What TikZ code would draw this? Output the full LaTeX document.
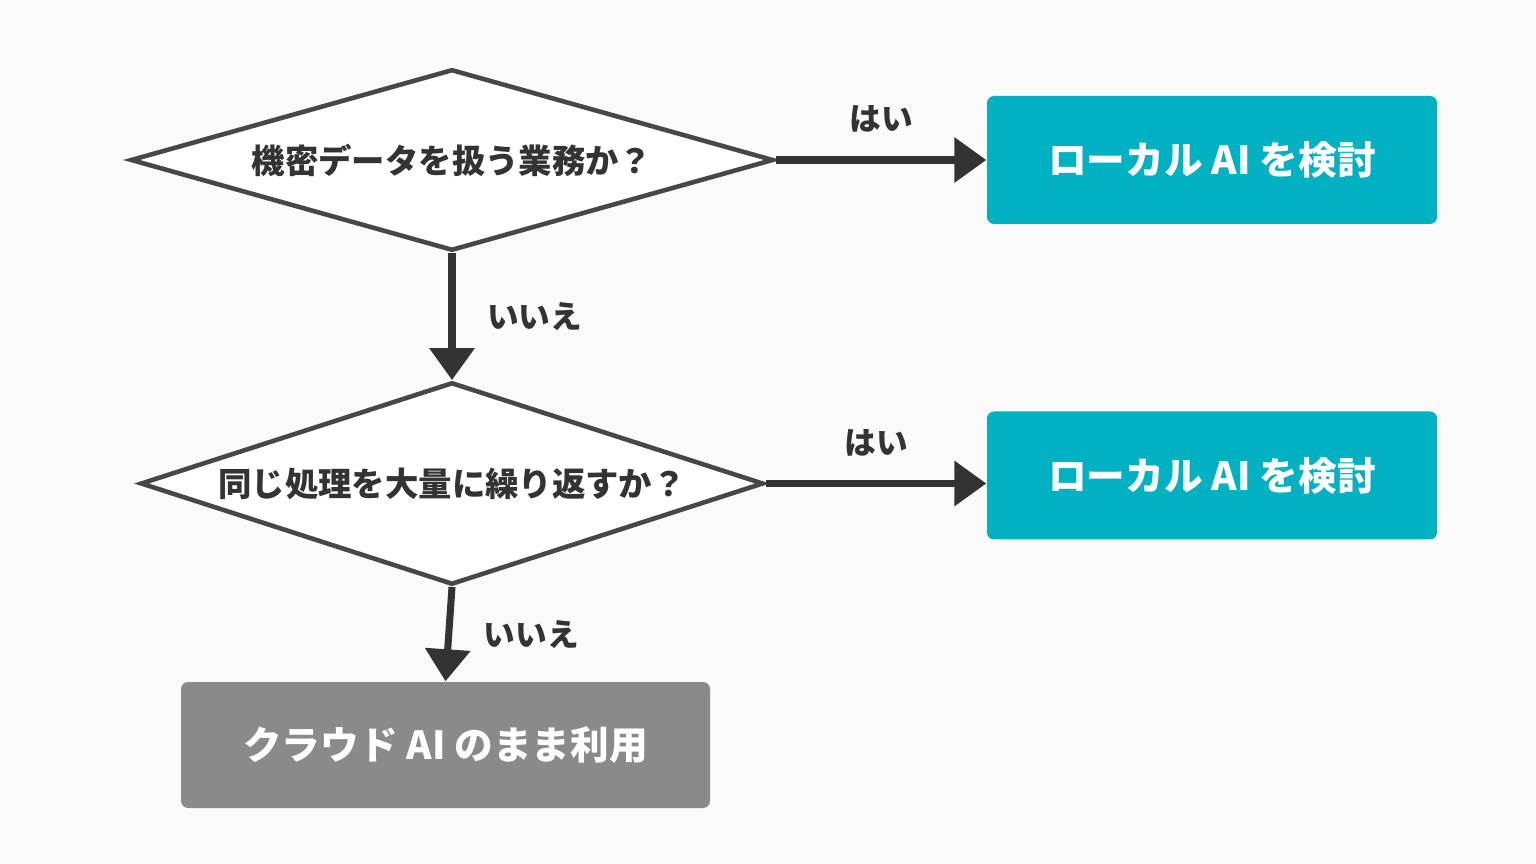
\documentclass[tikz,border=0pt]{standalone}
\usepackage{fontspec}
\setmainfont{Noto Sans CJK JP}
\usetikzlibrary{shapes.geometric,arrows.meta}
\definecolor{teal}{HTML}{00B1C2}
\definecolor{cloud}{HTML}{8A8A8A}
\definecolor{ink}{HTML}{333333}
\begin{document}
\begin{tikzpicture}[
q/.style={draw=ink!90,diamond,line width=1.3pt,fill=white,inner sep=0pt,font=\bfseries\fontsize{9.5}{11}\selectfont,text=ink},
res/.style={rounded corners=2pt,text=white,font=\bfseries\fontsize{11}{13}\selectfont,minimum width=4.5cm,minimum height=1.28cm},
arw/.style={-{Triangle[length=0.32cm,width=0.44cm]},line width=2pt,draw=ink},
lbl/.style={font=\bfseries\fontsize{9}{10}\selectfont,text=ink}
]
\fill[white!98!black](0,0)rectangle(15.36,-8.64);
\useasboundingbox(0,0)rectangle(15.36,-8.64);
\node[q,aspect=2.69,minimum width=6.43cm]at(4.52,-1.6)(d1){機密データを扱う業務か？};
\node[q,aspect=2.744,minimum width=6.23cm]at(4.52,-4.835)(d2){同じ処理を大量に繰り返すか？};
\node[res,fill=teal]at(12.12,-1.6)(b1){ローカル AI を検討};
\node[res,fill=teal]at(12.12,-4.755)(b2){ローカル AI を検討};
\node[res,fill=cloud,minimum width=5.29cm,minimum height=1.26cm]at(4.455,-7.45)(b3){クラウド AI のまま利用};
\draw[arw](d1.east)--(b1.west)node[lbl,midway,above=0.12cm]{はい};
\draw[arw](d2.east)--(d2.east-|b2.west)node[lbl,midway,above=0.12cm]{はい};
\draw[arw](d1.south)--(d2.north)node[lbl,midway,right=0.2cm]{いいえ};
\draw[arw](d2.south)--(b3.north)node[lbl,midway,right=0.2cm]{いいえ};
\end{tikzpicture}
\end{document}
